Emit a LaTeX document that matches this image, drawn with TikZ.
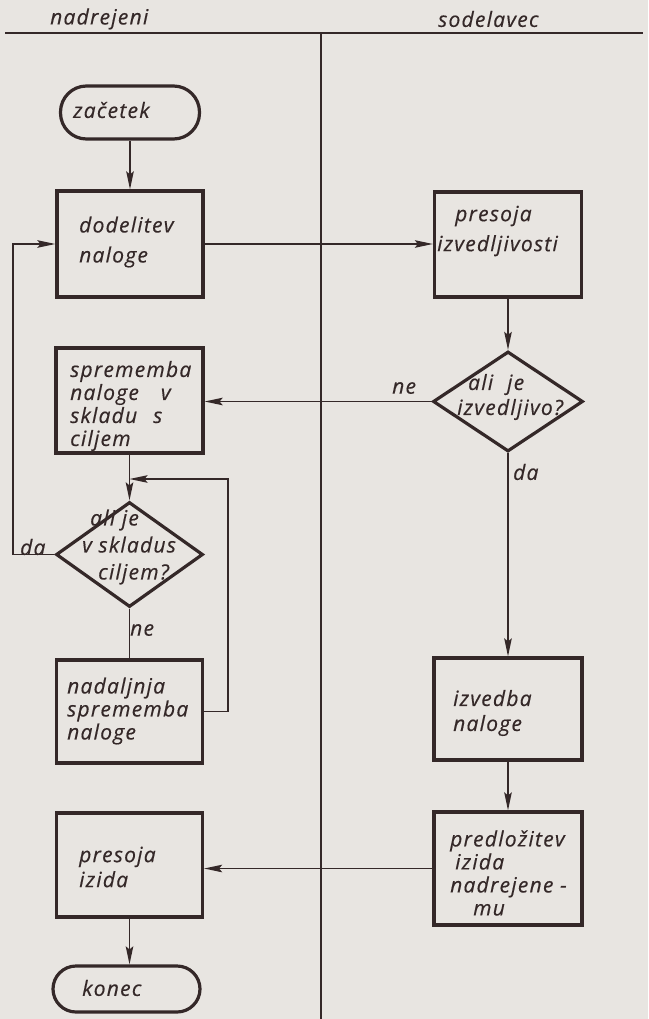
\documentclass[tikz,border=0pt]{standalone}
\usepackage{fontspec}
\setmainfont{Open Sans}
\newfontfamily\handfont[LetterSpace=6,FakeBold=0.4]{Open Sans}
\usetikzlibrary{shapes.geometric,arrows.meta}
\definecolor{paper}{RGB}{232,229,225}
\definecolor{ink}{RGB}{52,40,40}
\newcommand\lbfont[1]{\handfont\itshape\fontsize{21}{#1}\selectfont}
\begin{document}
\begin{tikzpicture}[x=1pt,y=-1pt,
  box/.style={draw=ink, line width=3.2pt, rectangle, inner sep=0pt},
  term/.style={box, rounded corners=#1},
  dec/.style={draw=ink, line width=3.2pt, diamond, inner sep=0pt},
  con/.style={draw=ink, line width=1.7pt},
  arr/.style={con, -{Stealth[length=18pt,width=7.5pt,inset=3pt]}},
  txt/.style={anchor=west, inner sep=0pt, align=left, text=ink, font=\lbfont{#1}},
  txt/.default=24pt]
% paper
\fill[paper] (0,0) rectangle (648,1019);
\useasboundingbox (0,0) rectangle (648,1019);

% lanes
\coordinate (hl) at (5,33);
\coordinate (hr) at (643,33);
\coordinate (vt) at (321,33);
\coordinate (vb) at (321,1019);
\draw[ink, line width=2.6pt] (hl) -- (hr);
\draw[ink, line width=1.7pt] (vt) -- (vb);
\node[txt] (boss) at (50,19) {nadrejeni};
\node[txt] (coworker) at (438,19) {sodelavec};

% left lane shapes
\node[term=26pt, minimum width=139pt, minimum height=53pt] (start) at (130,112.5) {};
\node[box, minimum width=146pt, minimum height=106pt] (dod) at (130,244) {};
\node[box, minimum width=147pt, minimum height=105pt] (sprem) at (129.5,400.5) {};
\node[dec, minimum width=147pt, minimum height=105pt] (d2) at (129.5,554.5) {};
\node[box, minimum width=146pt, minimum height=103pt] (nad) at (129.5,711.5) {};
\node[box, minimum width=146pt, minimum height=104pt] (piz) at (129.5,865) {};
\node[term=23pt, minimum width=147pt, minimum height=46pt] (stop) at (126.5,989) {};

% right lane shapes
\node[box, minimum width=147pt, minimum height=105pt] (pres) at (508,244.5) {};
\node[dec, minimum width=150pt, minimum height=100pt] (d1) at (508,401.5) {};
\node[box, minimum width=148pt, minimum height=102pt] (izv) at (508,709) {};
\node[box, minimum width=148pt, minimum height=113pt] (pred) at (508,868.5) {};

% texts
\node[txt] (startT) at (73,110) {začetek};
\node[txt=30pt] (dodT) at (79,242) {dodelitev\\naloge};
\node[txt=30pt] (presT) at (437,231) {\hspace{18pt}presoja\\izvedljivosti};
\node[txt=25pt] (d1T) at (457,397) {\hspace{11pt}ali\hspace{14pt}je\\izvedljivo?};
\node[txt=23pt] (spremT) at (70,406) {sprememba\\naloge\hspace{22pt}v\\skladu\hspace{16pt}s\\ciljem};
\node[txt=27pt] (d2T) at (82,547) {\hspace{8pt}ali je\\v skladus\\\hspace{16pt}ciljem?};
\node[txt=23pt] (nadT) at (67,711) {nadaljnja\\sprememba\\naloge};
\node[txt=25pt] (pizT) at (79,867) {presoja\\izida};
\node[txt] (stopT) at (82,988) {konec};
\node[txt=25pt] (izvT) at (453,713) {izvedba\\naloge};
\node[txt=23pt] (predT) at (450,873) {predložitev\\\hspace{5pt}izida\\nadrejene -\\\hspace{23pt}mu};

% branch labels
\node[txt] (neR) at (392,388) {ne};
\node[txt] (daR) at (513,472) {da};
\node[txt] (daL) at (20,547) {da};
\node[txt] (neL) at (130,630) {ne};

% connectors
\coordinate (loopL) at (13,0);
\coordinate (rjoin) at (228,479);
\draw[arr] (start) -- (dod);
\draw[arr] (dod.east) -- (dod.east -| pres.west);
\draw[arr] (pres.south) -- (d1.north);
\draw[arr] (d1.west) -- (d1.west -| sprem.east);
\draw[arr] (d1.south) -- (izv.north);
\draw[arr] (sprem.south) -- (d2.north);
\draw[arr] (d2.west) -- (d2.west -| loopL) |- (dod.west);
\draw[con] (d2.south) -- (nad.north);
\draw[arr] (nad.east) -| (rjoin) -- (rjoin -| sprem.south);
\draw[arr] (izv.south) -- (pred.north);
\draw[arr] (pred.west) -- (pred.west -| piz.east);
\draw[arr] (piz.south) -- (piz.south |- stop.north);
\end{tikzpicture}
\end{document}
